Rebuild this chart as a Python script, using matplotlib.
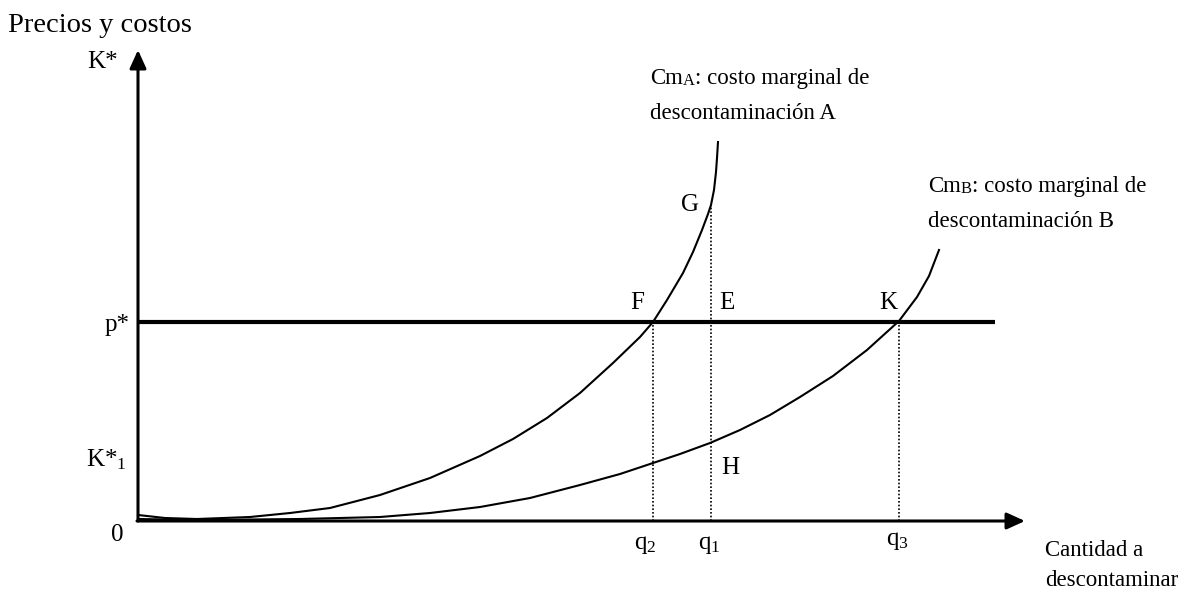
import matplotlib
matplotlib.use("Agg")
import matplotlib.pyplot as plt

plt.rcParams['font.family'] = ['Liberation Serif', 'DejaVu Serif']
plt.rcParams['mathtext.fontset'] = 'custom'
plt.rcParams['mathtext.rm'] = 'Liberation Serif'

# schematic values (quantity, price units)
cm_a_q = [0, 27, 59, 112, 152, 192, 242, 292, 342, 375, 409, 442, 475, 502, 515,
          529, 545, 555, 564, 570, 573, 576, 578, 579, 580]
cm_a_p = [6, 3, 2, 4, 8, 13, 26, 43, 65, 82, 103, 128, 158, 184, 199,
          221, 248, 269, 291, 307, 316, 331, 349, 363, 379]

cm_b_q = [0, 62, 162, 242, 292, 342, 392, 442, 482, 515, 542, 572, 602, 632, 662,
          695, 729, 761, 779, 791, 801]
cm_b_p = [2, 1, 2, 4, 8, 14, 23, 36, 47, 58, 67, 78, 91, 106, 124,
          145, 171, 200, 224, 245, 271]

p_star = 199
q_levels = {'q2': 515, 'q1': 573, 'q3': 761}
q_tops = {'q2': 199, 'q1': 316, 'q3': 199}
x_max = 887
y_max = 471
line_end = 857

fig = plt.figure(figsize=(11.87, 5.91), dpi=100)
ax = fig.add_axes([0, 0, 1, 1])
ax.set_xlim(-138, 1049)
ax.set_ylim(-70, 521)
ax.axis('off')

# axes with arrows
ax.annotate('', xy=(0, y_max), xytext=(0, 0),
            arrowprops=dict(arrowstyle='-|>,head_length=1.1,head_width=0.5',
                            lw=2.2, color='black', shrinkA=0, shrinkB=0))
ax.annotate('', xy=(x_max, 0), xytext=(-1, 0),
            arrowprops=dict(arrowstyle='-|>,head_length=1.1,head_width=0.5',
                            lw=2.2, color='black', shrinkA=0, shrinkB=0))

# price line
ax.plot([0, line_end], [p_star, p_star], color='black', lw=3.0, solid_capstyle='butt')

# marginal cost curves
ax.plot(cm_a_q, cm_a_p, color='black', lw=1.5, solid_joinstyle='round')
ax.plot(cm_b_q, cm_b_p, color='black', lw=1.5, solid_joinstyle='round')

# dotted guides
for k in q_levels:
    ax.plot([q_levels[k], q_levels[k]], [0, q_tops[k]], color='black', lw=1.2,
            linestyle=(0, (1, 1.2)))

fs = 18
ax.text(-130, 496, 'Precios y costos', fontsize=20.5, va='center', ha='left')
ax.text(-20, 459, 'K*', fontsize=fs, va='center', ha='right')
ax.text(-8, p_star - 3, 'p*', fontsize=fs, va='center', ha='right')
ax.text(-11, 61, r'K*$\mathregular{_1}$', fontsize=fs, va='center', ha='right')
ax.text(-21, -14, '0', fontsize=fs, va='center', ha='center')

ax.text(q_levels['q2'] - 8, -24, r'q$\mathregular{_2}$', fontsize=fs, va='center', ha='center')
ax.text(q_levels['q1'] - 2, -24, r'q$\mathregular{_1}$', fontsize=fs, va='center', ha='center')
ax.text(q_levels['q3'] - 2, -20, r'q$\mathregular{_3}$', fontsize=fs, va='center', ha='center')

ax.text(499, 218, 'F', fontsize=fs, va='center', ha='center')
ax.text(589, 218, 'E', fontsize=fs, va='center', ha='center')
ax.text(552, 316, 'G', fontsize=fs, va='center', ha='center')
ax.text(592, 53, 'H', fontsize=fs, va='center', ha='center')
ax.text(750, 218, 'K', fontsize=fs, va='center', ha='center')

nfs = 16.5


def cm_label(x, y, letter):
    t1 = ax.text(x, y, 'Cm', fontsize=nfs, va='bottom', ha='left')
    t2 = ax.annotate(letter, xy=(1, 0), xycoords=t1, fontsize=nfs * 0.72,
                     va='bottom', ha='left')
    ax.annotate(': costo marginal de', xy=(1, 0), xycoords=t2, fontsize=nfs,
                va='bottom', ha='left')
    ax.text(x, y - 35, 'descontaminación ' + letter, fontsize=nfs,
            va='bottom', ha='left')


cm_label(512, 432, 'A')
cm_label(790, 324, 'B')

ax.text(907, -30, 'Cantidad a', fontsize=nfs, va='center', ha='left')
ax.text(907, -60, 'descontaminar', fontsize=nfs, va='center', ha='left')

fig.savefig('out.png', dpi=100)
